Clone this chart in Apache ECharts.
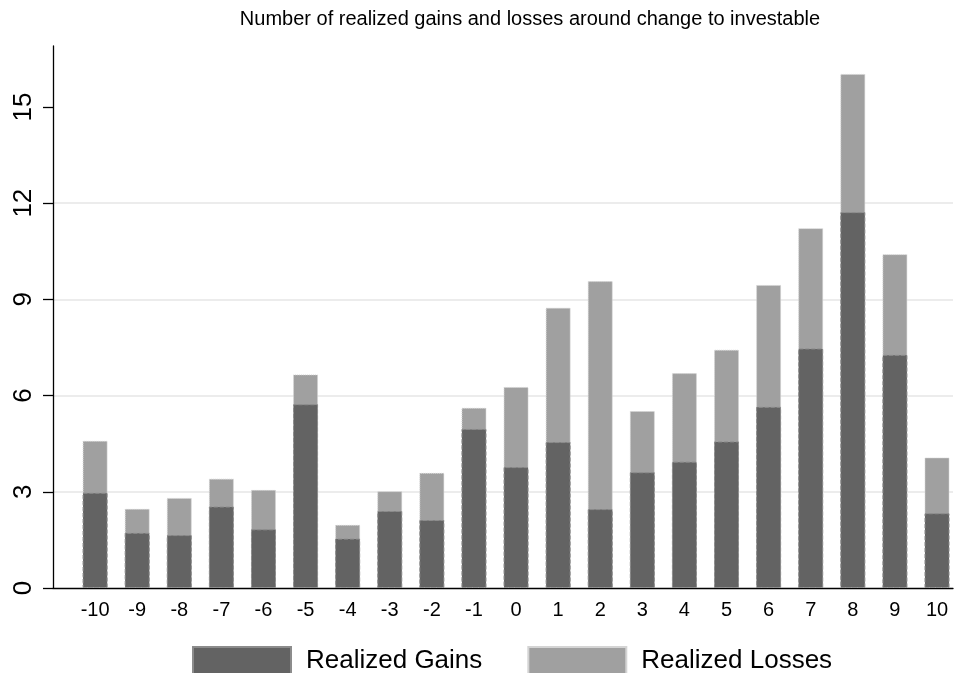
<!DOCTYPE html>
<html>
<head>
<meta charset="utf-8">
<script src="https://cdn.jsdelivr.net/npm/echarts@6/dist/echarts.min.js"></script>
<style>
    html, body { margin: 0; padding: 0; background: #fff; }
    #chart { width: 956px; height: 673px; }
</style>
</head>
<body>
<div id="chart"></div>
<script>
    // event time relative to change to investable
    var categories = [-10, -9, -8, -7, -6, -5, -4, -3, -2, -1, 0, 1, 2, 3, 4, 5, 6, 7, 8, 9, 10];
    var gains  = [2.97, 1.72, 1.65, 2.54, 1.83, 5.73, 1.54, 2.40, 2.12, 4.96, 3.77, 4.55, 2.46, 3.61, 3.94, 4.57, 5.65, 7.47, 11.72, 7.27, 2.33];
    var losses = [1.62, 0.75, 1.16, 0.87, 1.23, 0.93, 0.43, 0.62, 1.47, 0.66, 2.50, 4.19, 7.11, 1.91, 2.76, 2.86, 3.80, 3.75, 4.31, 3.14, 1.74];
    var yTicks = [0, 3, 6, 9, 12, 15];

    var font = "'Liberation Sans', Arial, Helvetica, sans-serif";

    // losses sit on top of gains: draw the stacked total behind the gains bar
    var gainsData = categories.map(function(c, i){ return [c, gains[i]]; });
    var totalData = categories.map(function(c, i){ return [c, +(gains[i] + losses[i]).toFixed(2)]; });

    var myChart = echarts.init(document.getElementById('chart'));
    var option = {
        animation: false,
        backgroundColor: '#fff',
        textStyle: {fontFamily: font},
        title: {
            text: 'Number of realized gains and losses around change to investable',
            left: 525,
            top: 4,
            textAlign: 'center',
            textStyle: {fontSize: 20, fontWeight: 'normal', color: '#000', fontFamily: font}
        },
        legend: {
            left: 192,
            top: 646,
            padding: 0,
            icon: 'rect',
            itemWidth: 98,
            itemHeight: 28,
            itemGap: 45,
            textStyle: {fontSize: 26, color: '#000', fontFamily: font, padding: [0, 0, 0, 10]},
            data: ['Realized Gains', 'Realized Losses']
        },
        grid: {
            left: 53,
            right: 0,
            top: 46,
            bottom: 85,
            containLabel: false
        },
        xAxis: {
            type: 'value',
            min: -11,
            max: 10.38,
            interval: 1,
            axisLine: {show: true, onZero: false, lineStyle: {color: '#000', width: 1.3}},
            axisTick: {show: false},
            splitLine: {show: false},
            axisLabel: {
                fontSize: 20,
                color: '#000',
                margin: 12,
                formatter: function(v){
                    return categories.indexOf(v) >= 0 ? String(v) : '';
                }
            }
        },
        yAxis: {
            type: 'value',
            min: 0,
            max: 16.9,
            interval: 3,
            axisLine: {show: true, onZero: false, lineStyle: {color: '#000', width: 1.3}},
            axisTick: {show: true, length: 10, customValues: yTicks, lineStyle: {color: '#000', width: 1.3}},
            splitLine: {show: true, showMinLine: false, showMaxLine: false, lineStyle: {color: '#e6e6e6', width: 1.5}},
            axisLabel: {
                fontSize: 26,
                color: '#000',
                rotate: 90,
                margin: 16,
                customValues: yTicks
            }
        },
        series: [
            {
                name: 'Realized Gains',
                type: 'bar',
                barWidth: 25,
                barGap: '-100%',
                z: 3,
                itemStyle: {color: '#636363', borderColor: '#8c8c8c', borderWidth: 1, borderType: 'dashed'},
                data: gainsData
            },
            {
                name: 'Realized Losses',
                type: 'bar',
                barWidth: 25,
                barGap: '-100%',
                z: 2,
                itemStyle: {color: '#a0a0a0', borderColor: '#d4d4d4', borderWidth: 1, borderType: 'dotted'},
                data: totalData
            }
        ]
    };
    myChart.setOption(option);
</script>
</body>
</html>
